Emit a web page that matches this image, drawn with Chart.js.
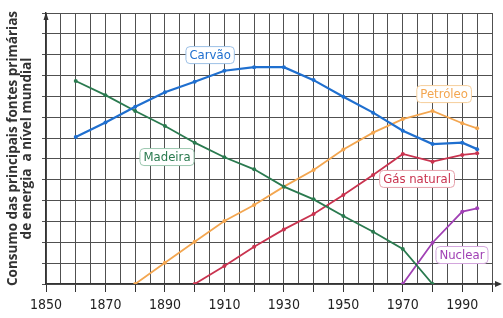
<!DOCTYPE html>
<html>
<head>
<meta charset="utf-8">
<script src="https://cdn.jsdelivr.net/npm/chart.js@4/dist/chart.umd.min.js"></script>
<style>
  html, body { margin: 0; padding: 0; background: #ffffff; }
  #wrap { width: 503px; height: 318px; position: relative; }
</style>
</head>
<body>
<div id="wrap"><canvas id="c"></canvas></div>
<script>
// ---- Data ----
const xTickLabels = [1850, 1870, 1890, 1910, 1930, 1950, 1970, 1990];

const carvaoYears  = [1860, 1870, 1880, 1890, 1900, 1910, 1920, 1930, 1940, 1950, 1960, 1970, 1980, 1990, 1995];
const carvaoValues = [7.05, 7.75, 8.5, 9.2, 9.7, 10.23, 10.4, 10.4, 9.78, 8.98, 8.22, 7.35, 6.71, 6.78, 6.47];

const madeiraYears  = [1860, 1870, 1880, 1890, 1900, 1910, 1920, 1930, 1940, 1950, 1960, 1970, 1980];
const madeiraValues = [9.74, 9.06, 8.3, 7.58, 6.78, 6.08, 5.5, 4.67, 4.06, 3.26, 2.51, 1.68, 0];

const petroleoYears  = [1880, 1890, 1900, 1910, 1920, 1930, 1940, 1950, 1960, 1970, 1980, 1990, 1995];
const petroleoValues = [0, 1.02, 2.03, 3.02, 3.79, 4.67, 5.47, 6.45, 7.26, 7.91, 8.3, 7.71, 7.47];

const gasYears  = [1900, 1910, 1920, 1930, 1940, 1950, 1960, 1970, 1980, 1990, 1995];
const gasValues = [0, 0.86, 1.79, 2.62, 3.36, 4.27, 5.23, 6.24, 5.87, 6.19, 6.27];

const nuclearYears  = [1970, 1980, 1990, 1995];
const nuclearValues = [0, 1.98, 3.47, 3.63];

const seriesNames = ['Carvão', 'Madeira', 'Petróleo', 'Gás natural', 'Nuclear'];
const axisTitle = ['Consumo das principais fontes primárias', 'de energia  a nível mundial'];

// ---- Styling ----
const colors = {
  'Carvão': '#1f6fcf',
  'Madeira': '#2a7a4f',
  'Petróleo': '#f3a650',
  'Gás natural': '#c9334f',
  'Nuclear': '#a040b4'
};
const labelBorder = {
  'Carvão': '#9cc0e6',
  'Madeira': '#9cc8b0',
  'Petróleo': '#f6cf9c',
  'Gás natural': '#e6a0aa',
  'Nuclear': '#d4a6de'
};
// label anchor positions in data units (year, value)
const labelPos = {
  'Carvão': [1905.2, 10.98],
  'Madeira': [1890.7, 6.09],
  'Petróleo': [1983.9, 9.11],
  'Gás natural': [1974.8, 5.04],
  'Nuclear': [1989.9, 1.39]
};

function pts(xs, ys) { return xs.map((x, i) => ({ x: x, y: ys[i] })); }

const seriesData = {
  'Carvão': pts(carvaoYears, carvaoValues),
  'Madeira': pts(madeiraYears, madeiraValues),
  'Petróleo': pts(petroleoYears, petroleoValues),
  'Gás natural': pts(gasYears, gasValues),
  'Nuclear': pts(nuclearYears, nuclearValues)
};

const datasets = seriesNames.map(n => ({
  label: n,
  data: seriesData[n],
  borderColor: colors[n],
  backgroundColor: colors[n],
  borderWidth: n === 'Carvão' ? 2.2 : 1.8,
  pointRadius: 2,
  pointBorderWidth: 0,
  pointHoverRadius: 2,
  tension: 0,
  fill: false
}));

const narrow = '"Liberation Sans Narrow", "DejaVu Sans Condensed", "Open Sans", sans-serif';

const labelsPlugin = {
  id: 'seriesLabels',
  afterDatasetsDraw(chart) {
    const ctx = chart.ctx;
    const xs = chart.scales.x, ys = chart.scales.y;
    ctx.save();
    ctx.font = '13px ' + narrow;
    ctx.textAlign = 'center';
    ctx.textBaseline = 'middle';
    seriesNames.forEach(n => {
      const px = xs.getPixelForValue(labelPos[n][0]);
      const py = ys.getPixelForValue(labelPos[n][1]);
      const w = ctx.measureText(n).width + 7;
      const h = 17;
      const x0 = px - w / 2, y0 = py - h / 2, r = 4;
      ctx.beginPath();
      ctx.moveTo(x0 + r, y0);
      ctx.lineTo(x0 + w - r, y0);
      ctx.quadraticCurveTo(x0 + w, y0, x0 + w, y0 + r);
      ctx.lineTo(x0 + w, y0 + h - r);
      ctx.quadraticCurveTo(x0 + w, y0 + h, x0 + w - r, y0 + h);
      ctx.lineTo(x0 + r, y0 + h);
      ctx.quadraticCurveTo(x0, y0 + h, x0, y0 + h - r);
      ctx.lineTo(x0, y0 + r);
      ctx.quadraticCurveTo(x0, y0, x0 + r, y0);
      ctx.closePath();
      ctx.fillStyle = '#ffffff';
      ctx.fill();
      ctx.lineWidth = 1;
      ctx.strokeStyle = labelBorder[n];
      ctx.stroke();
      ctx.fillStyle = colors[n];
      ctx.fillText(n, px, py + 0.5);
    });
    ctx.restore();
  }
};

const arrowsPlugin = {
  id: 'axisArrows',
  afterDraw(chart) {
    const ctx = chart.ctx;
    const a = chart.chartArea;
    ctx.save();
    ctx.fillStyle = '#333';
    ctx.strokeStyle = '#333';
    ctx.lineWidth = 1.3;
    // y arrow
    ctx.beginPath();
    ctx.moveTo(a.left, a.top + 7);
    ctx.lineTo(a.left - 2.5, a.top + 7);
    ctx.lineTo(a.left, a.top - 1);
    ctx.lineTo(a.left + 2.5, a.top + 7);
    ctx.closePath();
    ctx.fill();
    // x axis extension + arrow
    ctx.beginPath();
    ctx.moveTo(a.right, a.bottom);
    ctx.lineTo(a.right + 4, a.bottom);
    ctx.stroke();
    ctx.beginPath();
    ctx.moveTo(a.right + 3, a.bottom - 3);
    ctx.lineTo(a.right + 10, a.bottom);
    ctx.lineTo(a.right + 3, a.bottom + 3);
    ctx.closePath();
    ctx.fill();
    ctx.restore();
  }
};

new Chart(document.getElementById('c'), {
  type: 'line',
  data: { datasets: datasets },
  plugins: [labelsPlugin, arrowsPlugin],
  options: {
    responsive: true,
    maintainAspectRatio: false,
    animation: false,
    layout: { padding: { top: 13, right: 11, left: 0, bottom: 0 } },
    plugins: {
      legend: { display: false },
      tooltip: { enabled: false }
    },
    scales: {
      x: {
        type: 'linear',
        min: 1850,
        max: 2000,
        afterFit: s => { s.height = 34; },
        border: { display: true, color: '#333', width: 1.3 },
        grid: {
          color: '#505050',
          lineWidth: 1,
          drawTicks: true,
          tickLength: 8,
          tickColor: c => (c.tick && c.tick.value % 10 === 0) ? '#333' : 'rgba(0,0,0,0)'
        },
        ticks: {
          stepSize: 5,
          autoSkip: false,
          maxRotation: 0,
          padding: 5,
          color: '#222',
          font: { family: narrow, size: 14 },
          callback: v => xTickLabels.includes(v) ? String(v) : ''
        }
      },
      y: {
        type: 'linear',
        min: 0,
        max: 13,
        afterFit: s => { s.width = 46; },
        border: { display: true, color: '#333', width: 1.3 },
        grid: {
          color: '#505050',
          lineWidth: 1,
          drawTicks: true,
          tickLength: 4,
          tickColor: '#505050'
        },
        ticks: { stepSize: 1, display: false },
        title: {
          display: true,
          text: axisTitle,
          color: '#333',
          font: { family: '"Open Sans", "Noto Sans", sans-serif', size: 13.5, weight: 'bold', lineHeight: 1.05 },
          padding: { top: 6, bottom: 0 }
        }
      }
    }
  }
});
</script>
</body>
</html>
